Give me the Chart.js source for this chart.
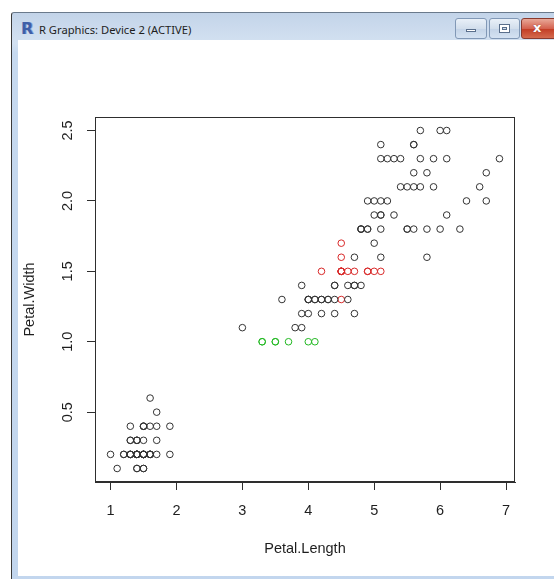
<!DOCTYPE html>
<html>
<head>
<meta charset="utf-8">
<script src="https://cdn.jsdelivr.net/npm/chart.js@4.4.1/dist/chart.umd.min.js"></script>
<style>
  html, body { margin: 0; padding: 0; background: #ffffff; }
  body { width: 554px; height: 579px; position: relative; overflow: hidden; }
  #win { position: absolute; left: 11px; top: 12px; width: 600px; height: 580px;
         border-left: 1px solid #3a3a3a; border-top: 1px solid #6a7a8c;
         background: linear-gradient(#c3d4e9, #d3e1f1 30px, #c6d9ef 40px, #c2d6ee); border-top-left-radius: 3px; }
  #client { position: absolute; left: 18px; top: 40px; width: 536px; height: 536px; background: #ffffff; }
  #title { position: absolute; left: 39px; top: 22px; font: 11.2px "Noto Sans", "Open Sans", sans-serif; color: #1e1e1e; white-space: nowrap; }
  #ricon { position: absolute; left: 21px; top: 19px; font: bold 16px "DejaVu Sans", sans-serif; color: #3f5fa8; text-shadow: 1px 0 0 #8aa3d6; }
  .btn { position: absolute; top: 18px; height: 19px; border: 1px solid #8198b6; border-radius: 3px;
         background: linear-gradient(#e9f0f8, #d2deec 50%, #c3d3e7 51%, #d4e2f2); }
  #bmin { left: 455px; width: 30px; }
  #bmax { left: 489px; width: 29px; }
  #bclose { left: 521px; width: 40px; border-color: #8a3a2e; background: linear-gradient(#e8a898, #d4624f 50%, #c23b23 51%, #d46a4e); }
  #bmin i { position: absolute; left: 10px; top: 10px; width: 10px; height: 3px; background: #ffffff; border: 1px solid #5a6f8c; box-sizing: border-box; }
  #bmax i { position: absolute; left: 9px; top: 5px; width: 11px; height: 9px; border: 1px solid #5a6f8c; box-sizing: border-box; background: #ffffff; }
  #bmax i::after { content: ""; position: absolute; left: 2px; top: 2px; width: 5px; height: 3px; border: 1px solid #5a6f8c; background: #d2deec; box-sizing: border-box; }
  #bclose b { position: absolute; left: 11px; top: 1px; font: bold 13px "DejaVu Sans", sans-serif; color: #ffffff; text-shadow: 0 0 1px #7a2a1e; }
  canvas { position: absolute; left: 0; top: 0; }
</style>
</head>
<body>
<div id="win"></div>
<div id="ricon">R</div>
<div id="title">R Graphics: Device 2 (ACTIVE)</div>
<div class="btn" id="bmin"><i></i></div>
<div class="btn" id="bmax"><i></i></div>
<div class="btn" id="bclose"><b>x</b></div>
<div id="client"><canvas id="c" width="536" height="536"></canvas></div>
<script>
// iris: points drawn in black
const blackLength = [1.4,1.4,1.3,1.5,1.4,1.7,1.4,1.5,1.4,1.5,1.5,1.6,1.4,1.1,1.2,1.5,1.3,1.4,1.7,1.5,
  1.7,1.5,1.0,1.7,1.9,1.6,1.6,1.5,1.4,1.6,1.6,1.5,1.5,1.4,1.5,1.2,1.3,1.4,1.3,1.5,
  1.3,1.3,1.3,1.6,1.9,1.4,1.6,1.4,1.5,1.4,
  4.7,4.0,4.7,4.6,3.9,4.7,3.6,4.4,3.9,4.8,4.0,4.7,4.3,4.4,4.8,5.0,3.8,3.9,5.1,4.4,
  4.1,4.0,4.4,4.6,4.0,4.2,4.2,4.2,4.3,3.0,4.1,
  6.0,5.1,5.9,5.6,5.8,6.6,6.3,5.8,6.1,5.1,5.3,5.5,5.0,5.1,5.3,5.5,6.7,6.9,5.7,4.9,
  6.7,4.9,5.7,6.0,4.8,4.9,5.6,5.8,6.1,6.4,5.6,6.1,5.6,5.5,4.8,5.4,5.6,5.1,5.1,5.9,
  5.7,5.2,5.0,5.2,5.4,5.1];
const blackWidth = [0.2,0.2,0.2,0.2,0.2,0.4,0.3,0.2,0.2,0.1,0.2,0.2,0.1,0.1,0.2,0.4,0.4,0.3,0.3,0.3,
  0.2,0.4,0.2,0.5,0.2,0.2,0.4,0.2,0.2,0.2,0.2,0.4,0.1,0.2,0.2,0.2,0.2,0.1,0.2,0.2,
  0.3,0.3,0.2,0.6,0.4,0.3,0.2,0.2,0.2,0.2,
  1.4,1.3,1.6,1.3,1.4,1.4,1.3,1.4,1.1,1.8,1.3,1.2,1.3,1.4,1.4,1.7,1.1,1.2,1.6,1.3,
  1.3,1.3,1.2,1.4,1.2,1.3,1.2,1.3,1.3,1.1,1.3,
  2.5,1.9,2.1,1.8,2.2,2.1,1.8,1.8,2.5,2.0,1.9,2.1,2.0,2.4,2.3,1.8,2.2,2.3,2.3,2.0,
  2.0,1.8,2.1,1.8,1.8,1.8,2.1,1.6,1.9,2.0,2.2,2.3,2.4,1.8,1.8,2.1,2.4,2.3,1.9,2.3,
  2.5,2.3,1.9,2.0,2.3,1.8];
// points drawn in red
const redLength = [4.5,4.9,4.6,4.5,4.2,4.5,4.5,4.9,4.5,4.5,4.5,4.7,4.5,5.0,5.1];
const redWidth  = [1.5,1.5,1.5,1.3,1.5,1.5,1.5,1.5,1.5,1.5,1.6,1.5,1.7,1.5,1.5];
// points drawn in green
const greenLength = [3.3,3.5,4.0,4.1,3.5,3.7,3.3];
const greenWidth  = [1.0,1.0,1.0,1.0,1.0,1.0,1.0];

const xTicks = [1, 2, 3, 4, 5, 6, 7];
const yTicks = [0.5, 1.0, 1.5, 2.0, 2.5];
const xTitle = "Petal.Length";
const yTitle = "Petal.Width";

function pts(xs, ys) { return xs.map((x, i) => ({ x: x, y: ys[i] })); }

const FONT = '"Liberation Sans", Arial, sans-serif';
const AXC = '#2e2e2e';

const boxPlugin = {
  id: 'box',
  afterDraw(chart) {
    const a = chart.chartArea, ctx = chart.ctx;
    ctx.save();
    ctx.strokeStyle = AXC;
    ctx.lineWidth = 1;
    ctx.strokeRect(Math.round(a.left) + 0.5, Math.round(a.top) + 0.5,
                   Math.round(a.right - a.left) - 1, Math.round(a.bottom - a.top) - 1);
    ctx.restore();
  }
};

function ds(xs, ys, color) {
  return {
    data: pts(xs, ys),
    showLine: false,
    pointStyle: 'circle',
    pointRadius: 3.3,
    pointHoverRadius: 3.3,
    pointBorderWidth: 1,
    borderColor: color,
    pointBorderColor: color,
    backgroundColor: 'rgba(0,0,0,0)',
    pointBackgroundColor: 'rgba(0,0,0,0)'
  };
}

new Chart(document.getElementById('c'), {
  type: 'scatter',
  data: {
    datasets: [
      ds(blackLength, blackWidth, '#333333'),
      ds(redLength, redWidth, '#d82828'),
      ds(greenLength, greenWidth, '#22b822')
    ]
  },
  options: {
    responsive: false,
    devicePixelRatio: 1,
    animation: false,
    events: [],
    layout: { padding: { top: 77, right: 39, left: 0, bottom: 0 } },
    plugins: { legend: { display: false }, tooltip: { enabled: false } },
    scales: {
      x: {
        type: 'linear',
        min: 0.764, max: 7.136,
        afterBuildTicks(s) { s.ticks = xTicks.map(v => ({ value: v })); },
        afterFit(s) { s.height = 94; },
        grid: { display: true, drawOnChartArea: false, drawTicks: true, tickLength: 8, color: AXC, lineWidth: 1 },
        border: { display: true, color: AXC, width: 1 },
        ticks: { color: '#1e1e1e', font: { family: FONT, size: 14.5 }, padding: 12,
                 maxRotation: 0, minRotation: 0, autoSkip: false,
                 callback: v => String(v) },
        title: { display: true, text: xTitle, color: '#1e1e1e', font: { family: FONT, size: 14.5 },
                 padding: { top: 0, bottom: 18 } }
      },
      y: {
        type: 'linear',
        min: 0.004, max: 2.596,
        afterBuildTicks(s) { s.ticks = yTicks.map(v => ({ value: v })); },
        afterFit(s) { s.width = 77; },
        grid: { display: true, drawOnChartArea: false, drawTicks: true, tickLength: 8, color: AXC, lineWidth: 1 },
        border: { display: true, color: AXC, width: 1 },
        ticks: { color: '#1e1e1e', font: { family: FONT, size: 14.5 }, padding: 9,
                 minRotation: 90, maxRotation: 90, crossAlign: 'center', autoSkip: false,
                 callback: v => v.toFixed(1) },
        title: { display: true, text: yTitle, color: '#1e1e1e', font: { family: FONT, size: 14.5 },
                 padding: { top: 3, bottom: 0 } }
      }
    }
  },
  plugins: [boxPlugin]
});
</script>
</body>
</html>
